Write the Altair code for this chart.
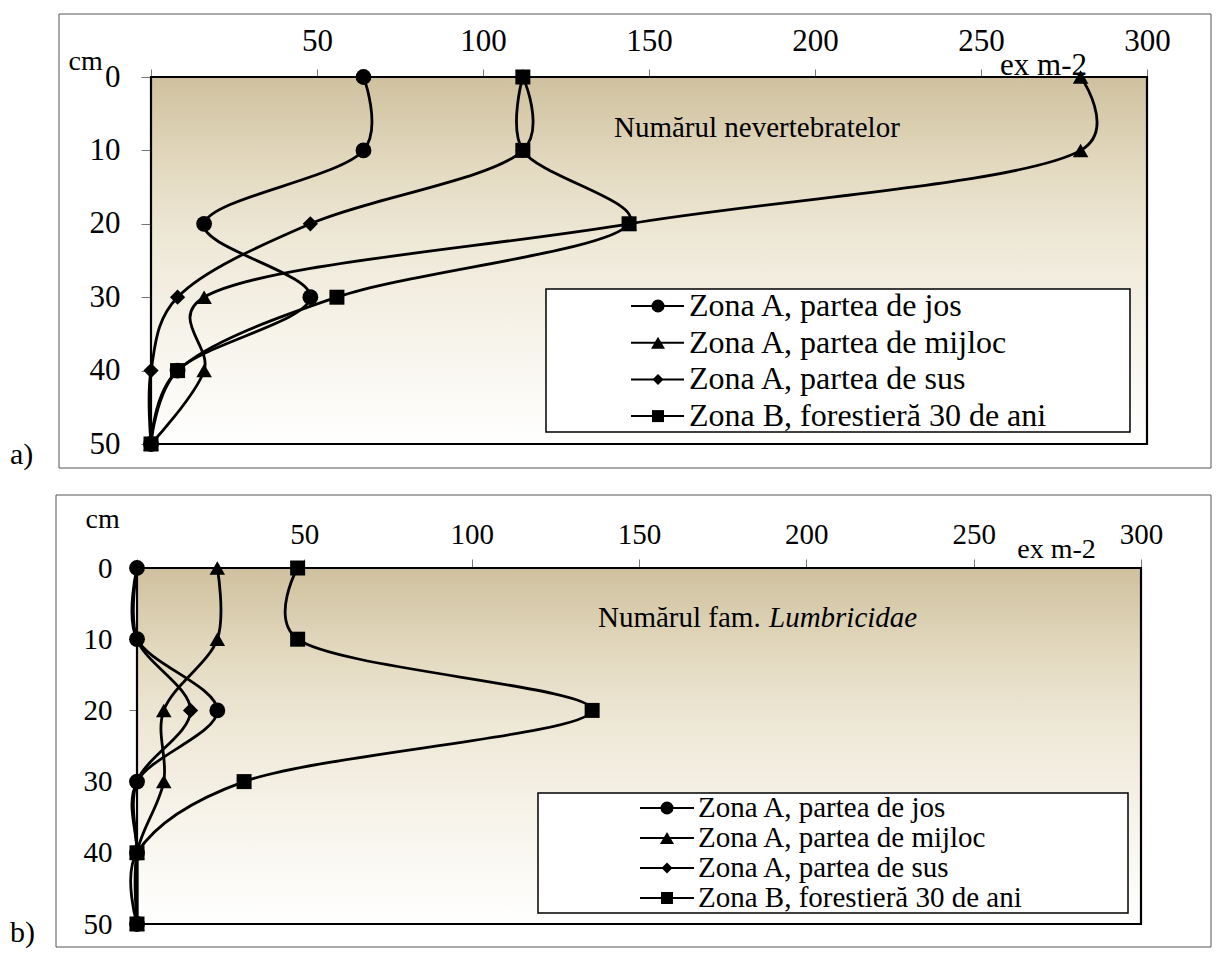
import altair as alt
import pandas as pd

FONT = "Liberation Serif"

depth = [0, 10, 20, 30, 40, 50]
series = ["Zona A, partea de jos", "Zona A, partea de mijloc",
          "Zona A, partea de sus", "Zona B, forestieră 30 de ani"]
shapes = ["circle", "triangle-up", "diamond", "square"]
x_ticks = [0, 50, 100, 150, 200, 250, 300]
y_ticks = [0, 10, 20, 30, 40, 50]

# panel a) - Numarul nevertebratelor
a_jos = [64, 64, 16, 48, 8, 0]
a_mijloc = [280, 280, 144, 16, 16, 0]
a_sus = [112, 112, 48, 8, 0, 0]
a_forest = [112, 112, 144, 56, 8, 0]

# panel b) - Numarul fam. Lumbricidae
b_jos = [0, 0, 24, 0, 0, 0]
b_mijloc = [24, 24, 8, 8, 0, 0]
b_sus = [0, 0, 16, 0, 0, 0]
b_forest = [48, 48, 136, 32, 0, 0]


def long_df(cols):
    rows = []
    for name, vals in zip(series, cols):
        for d, v in zip(depth, vals):
            rows.append({"series": name, "depth": d, "value": v})
    return pd.DataFrame(rows)


grad = alt.Gradient(
    gradient="linear", x1=0, x2=0, y1=0, y2=1,
    stops=[alt.GradientStop(color="#cfc19e", offset=0),
           alt.GradientStop(color="#e4dac1", offset=0.25),
           alt.GradientStop(color="#eee8d7", offset=0.45),
           alt.GradientStop(color="#f7f4eb", offset=0.72),
           alt.GradientStop(color="#ffffff", offset=1)])

one = pd.DataFrame({"k": [0]})

MARK_SIZES = [250, 225, 170, 200]
LEG_SIZES = {"circle": 170, "triangle-up": 196, "diamond": 121, "square": 144}


def panel(df, W, H, p):
    x0, x1 = p["xr"]
    frame = alt.Chart(one).mark_rect(filled=False, stroke="#555555", strokeWidth=1).encode(
        x=alt.value(p["frame"][0]), x2=alt.value(p["frame"][1]),
        y=alt.value(p["frame"][2]), y2=alt.value(p["frame"][3]))
    bg = alt.Chart(one).mark_rect(fill=grad, stroke="black", strokeWidth=2.2).encode(
        x=alt.value(x0), x2=alt.value(x1), y=alt.value(0), y2=alt.value(H))

    xenc = alt.X("value:Q", scale=alt.Scale(domain=[0, 300], nice=False, zero=False,
                                            range=[x0, x1]),
                 axis=alt.Axis(orient="top", values=x_ticks,
                               labelExpr="datum.value == 0 ? '' : datum.label",
                               labelFlush=False, labelOverlap=False,
                               domain=False, grid=False, tickSize=p["xtick"],
                               tickColor="#777777", tickWidth=1,
                               labelFont=FONT, labelFontSize=p["fs"], labelColor="black",
                               labelBaseline="alphabetic", labelPadding=p["xpad"],
                               title="ex m-2", titleFont=FONT, titleFontSize=p["exfs"],
                               titleFontWeight="normal", titleColor="black",
                               titleX=p["ex"][0], titleY=p["ex"][1],
                               titleAlign="center", titleBaseline="alphabetic"))
    yenc = alt.Y("depth:Q", scale=alt.Scale(domain=[0, 50], reverse=True, nice=False),
                 axis=alt.Axis(values=y_ticks, domain=False, grid=False, offset=-x0,
                               labelFlush=False, labelOverlap=False,
                               tickSize=p["ytick"], tickColor="#777777", tickWidth=1,
                               labelFont=FONT, labelFontSize=p["fs"], labelColor="black",
                               labelPadding=p["ypad"],
                               title="cm", titleAngle=0, titleFont=FONT,
                               titleFontSize=p["cmfs"], titleFontWeight="normal",
                               titleColor="black", titleX=p["cm"][0], titleY=p["cm"][1],
                               titleAlign="left", titleBaseline="alphabetic"))

    lines = alt.Chart(df).mark_line(interpolate="catmull-rom", tension=0.25,
                                    color="black").encode(
        x=xenc, y=yenc, detail="series:N", order="depth:Q",
        strokeWidth=alt.StrokeWidth("series:N", scale=alt.Scale(domain=series, range=p["lw"]),
                                    legend=None))
    pts = alt.Chart(df).mark_point(filled=True, color="black", opacity=1).encode(
        x="value:Q", y="depth:Q",
        shape=alt.Shape("series:N", scale=alt.Scale(domain=series, range=shapes), legend=None),
        size=alt.Size("series:N", scale=alt.Scale(domain=series, range=MARK_SIZES),
                      legend=None))

    layers = [frame, bg, lines, pts]

    for txt, x, y, style in p["notes"]:
        layers.append(alt.Chart(one).mark_text(
            text=txt, font=FONT, fontSize=p["nfs"], fontStyle=style, align="left",
            baseline="alphabetic", color="black").encode(x=alt.value(x), y=alt.value(y)))

    # label a) / b)
    layers.append(alt.Chart(one).mark_text(
        text=p["tag"][0], font=FONT, fontSize=30, align="left", baseline="alphabetic",
        color="black").encode(x=alt.value(p["tag"][1]), y=alt.value(p["tag"][2])))

    # legend
    lb = p["leg"]
    layers.append(alt.Chart(one).mark_rect(fill="white", stroke="black", strokeWidth=1.5).encode(
        x=alt.value(lb["box"][0]), x2=alt.value(lb["box"][1]),
        y=alt.value(lb["box"][2]), y2=alt.value(lb["box"][3])))
    for i, (name, shp) in enumerate(zip(series, shapes)):
        base = lb["y0"] + i * lb["dy"]
        cy = base - lb["off"]
        layers.append(alt.Chart(one).mark_rule(color="black", strokeWidth=2).encode(
            x=alt.value(lb["lx"][0]), x2=alt.value(lb["lx"][1]), y=alt.value(cy)))
        layers.append(alt.Chart(one).mark_point(filled=True, color="black", opacity=1).encode(
            x=alt.value(lb["mx"]), y=alt.value(cy), shape=alt.value(shp),
            size=alt.value(LEG_SIZES[shp])))
        layers.append(alt.Chart(one).mark_text(
            text=name, font=FONT, fontSize=lb["fs"], align="left", baseline="alphabetic",
            color="black").encode(x=alt.value(lb["tx"]), y=alt.value(base)))

    return alt.layer(*layers).properties(width=W, height=H)


pa = dict(xr=[0, 996], frame=[-92, 1060, -63, 391], xtick=8, xpad=19, fs=31, exfs=31,
          ex=[892, -3], ytick=10, ypad=21, cm=[-83, -8], cmfs=28,
          lw=[2.8, 2.8, 1.8, 1.8], nfs=29,
          notes=[("Numărul nevertebratelor", 463, 60, "normal")],
          tag=("a)", -141, 387),
          leg=dict(box=[395, 979, 212, 355], y0=239, dy=36.7, off=10, lx=[480, 533],
                   mx=507, tx=538, fs=32))
pb = dict(xr=[-14, 990], frame=[-95, 1060, -73, 379], xtick=9, xpad=16, fs=29, exfs=28,
          ex=[905, -11], ytick=8, ypad=17, cm=[-52, -41], cmfs=28,
          lw=[2.5, 2.8, 1.8, 1.8], nfs=29,
          notes=[("Numărul fam. ", 447, 59, "normal"), ("Lumbricidae", 618, 59, "italic")],
          tag=("b)", -141, 374),
          leg=dict(box=[387, 977, 225, 345], y0=249, dy=30, off=9, lx=[489, 543],
                   mx=516, tx=547, fs=29))

chart_a = panel(long_df([a_jos, a_mijloc, a_sus, a_forest]), 996, 367, pa)
chart_b = panel(long_df([b_jos, b_mijloc, b_sus, b_forest]), 990, 356, pb)

chart = alt.ConcatChart(concat=[chart_a, chart_b], columns=1, align="none", spacing=23,
                        padding={"left": 1, "top": 5, "right": 0, "bottom": 0}
                        ).configure_view(stroke=None).configure(font=FONT)

chart.save("out.html", embed_options={"renderer": "svg", "actions": False})
